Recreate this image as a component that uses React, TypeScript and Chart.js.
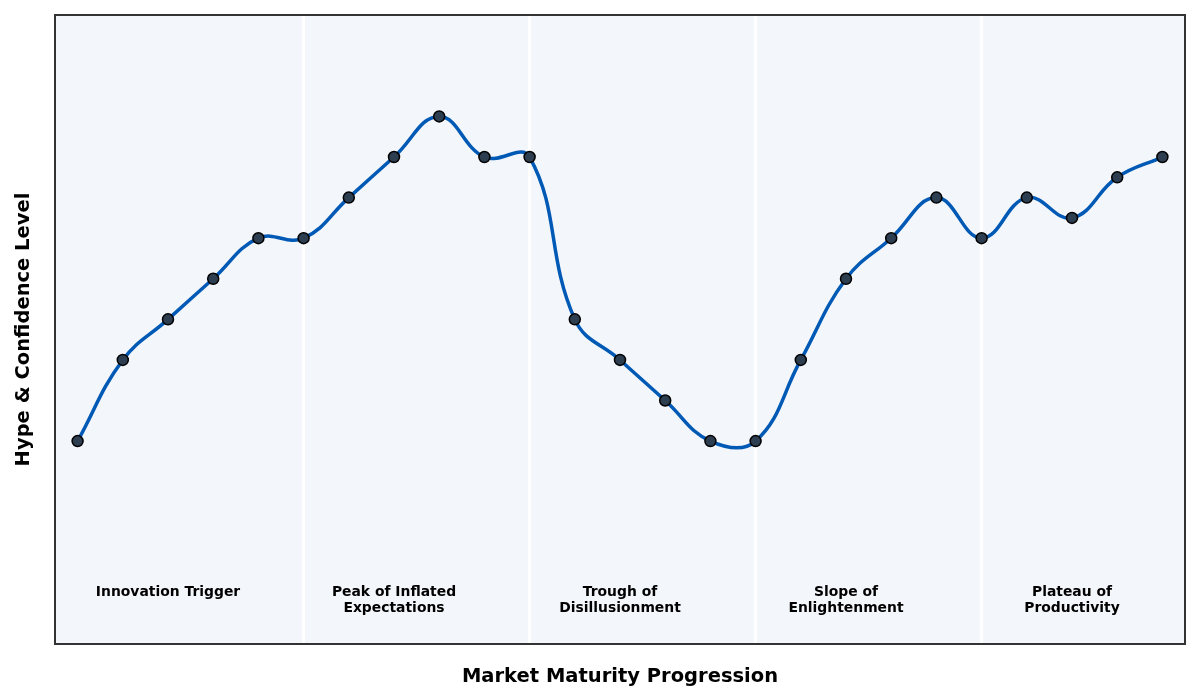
import { Chart, registerables } from 'chart.js';
import { useEffect, useRef } from 'react';

Chart.register(...registerables);

// hype level at each step along the maturity curve
const HYPE_LEVELS = [20, 30, 35, 40, 45, 45, 50, 55, 60, 55, 55, 35, 30, 25, 20, 20, 30, 40, 45, 50, 45, 50, 47.5, 52.5, 55];
const PHASE_NAMES: string[][] = [
  ['Innovation Trigger'],
  ['Peak of Inflated', 'Expectations'],
  ['Trough of', 'Disillusionment'],
  ['Slope of', 'Enlightenment'],
  ['Plateau of', 'Productivity'],
];
const PHASE_BOUNDS = [5, 10, 15, 20];
const PHASE_CENTERS = [2, 7, 12, 17, 22];

const FONT = "'DejaVu Sans', sans-serif";

const phasePlugin = {
  id: 'phases',
  beforeDatasetsDraw(chart: Chart) {
    const { ctx, chartArea: a, scales } = chart;
    ctx.save();
    ctx.fillStyle = '#f3f6fa';
    ctx.fillRect(a.left, a.top, a.right - a.left, a.bottom - a.top);
    ctx.strokeStyle = '#ffffff';
    ctx.lineWidth = 3;
    PHASE_BOUNDS.forEach((b) => {
      const x = scales.x.getPixelForValue(b);
      ctx.beginPath();
      ctx.moveTo(x, a.top);
      ctx.lineTo(x, a.bottom);
      ctx.stroke();
    });
    ctx.fillStyle = '#000';
    ctx.font = `bold 13.9px ${FONT}`;
    ctx.textAlign = 'center';
    ctx.textBaseline = 'middle';
    const y0 = scales.y.getPixelForValue(1.35);
    PHASE_NAMES.forEach((lines, i) => {
      const x = scales.x.getPixelForValue(PHASE_CENTERS[i]);
      lines.forEach((t, j) => ctx.fillText(t, x, y0 + j * 16));
    });
    ctx.restore();
  },
  afterDraw(chart: Chart) {
    const { ctx, chartArea: a } = chart;
    ctx.save();
    ctx.strokeStyle = '#333333';
    ctx.lineWidth = 2;
    ctx.strokeRect(a.left, a.top, a.right - a.left, a.bottom - a.top);
    ctx.restore();
  },
};

export default function App() {
  const canvasRef = useRef<HTMLCanvasElement>(null);

  useEffect(() => {
    if (!canvasRef.current) return;
    const chart = new Chart(canvasRef.current, {
      type: 'line',
      data: {
        datasets: [
          {
            data: HYPE_LEVELS.map((v, i) => ({ x: i, y: v })),
            borderColor: '#0059b5',
            borderWidth: 3.5,
            tension: 0.42,
            pointRadius: 5.5,
            pointBackgroundColor: '#2c3e50',
            pointBorderColor: '#000',
            pointBorderWidth: 1.5,
          },
        ],
      },
      options: {
        animation: false,
        responsive: true,
        maintainAspectRatio: false,
        layout: { padding: { left: 4, right: 15, top: 15, bottom: 4 } },
        plugins: { legend: { display: false }, tooltip: { enabled: false } },
        scales: {
          x: {
            type: 'linear',
            min: -0.5,
            max: 24.5,
            grid: { display: false, drawTicks: false },
            border: { display: false },
            ticks: { display: false },
            title: {
              display: true,
              text: 'Market Maturity Progression',
              color: '#000',
              font: { family: FONT, size: 19.5, weight: 'bold' },
              padding: { top: 21.3, bottom: 7.3 },
            },
          },
          y: {
            min: -5,
            max: 72.5,
            grid: { display: false, drawTicks: false },
            border: { display: false },
            ticks: { display: false },
            title: {
              display: true,
              text: 'Hype & Confidence Level',
              color: '#000',
              font: { family: FONT, size: 19.5, weight: 'bold' },
              padding: { top: 8.3, bottom: 19.3 },
            },
          },
        },
      },
      plugins: [phasePlugin],
    });
    return () => chart.destroy();
  }, []);

  return (
    <div style={{ position: 'fixed', left: 0, top: 0, width: 1200, height: 700, background: '#fff' }}>
      <canvas ref={canvasRef} />
    </div>
  );
}
